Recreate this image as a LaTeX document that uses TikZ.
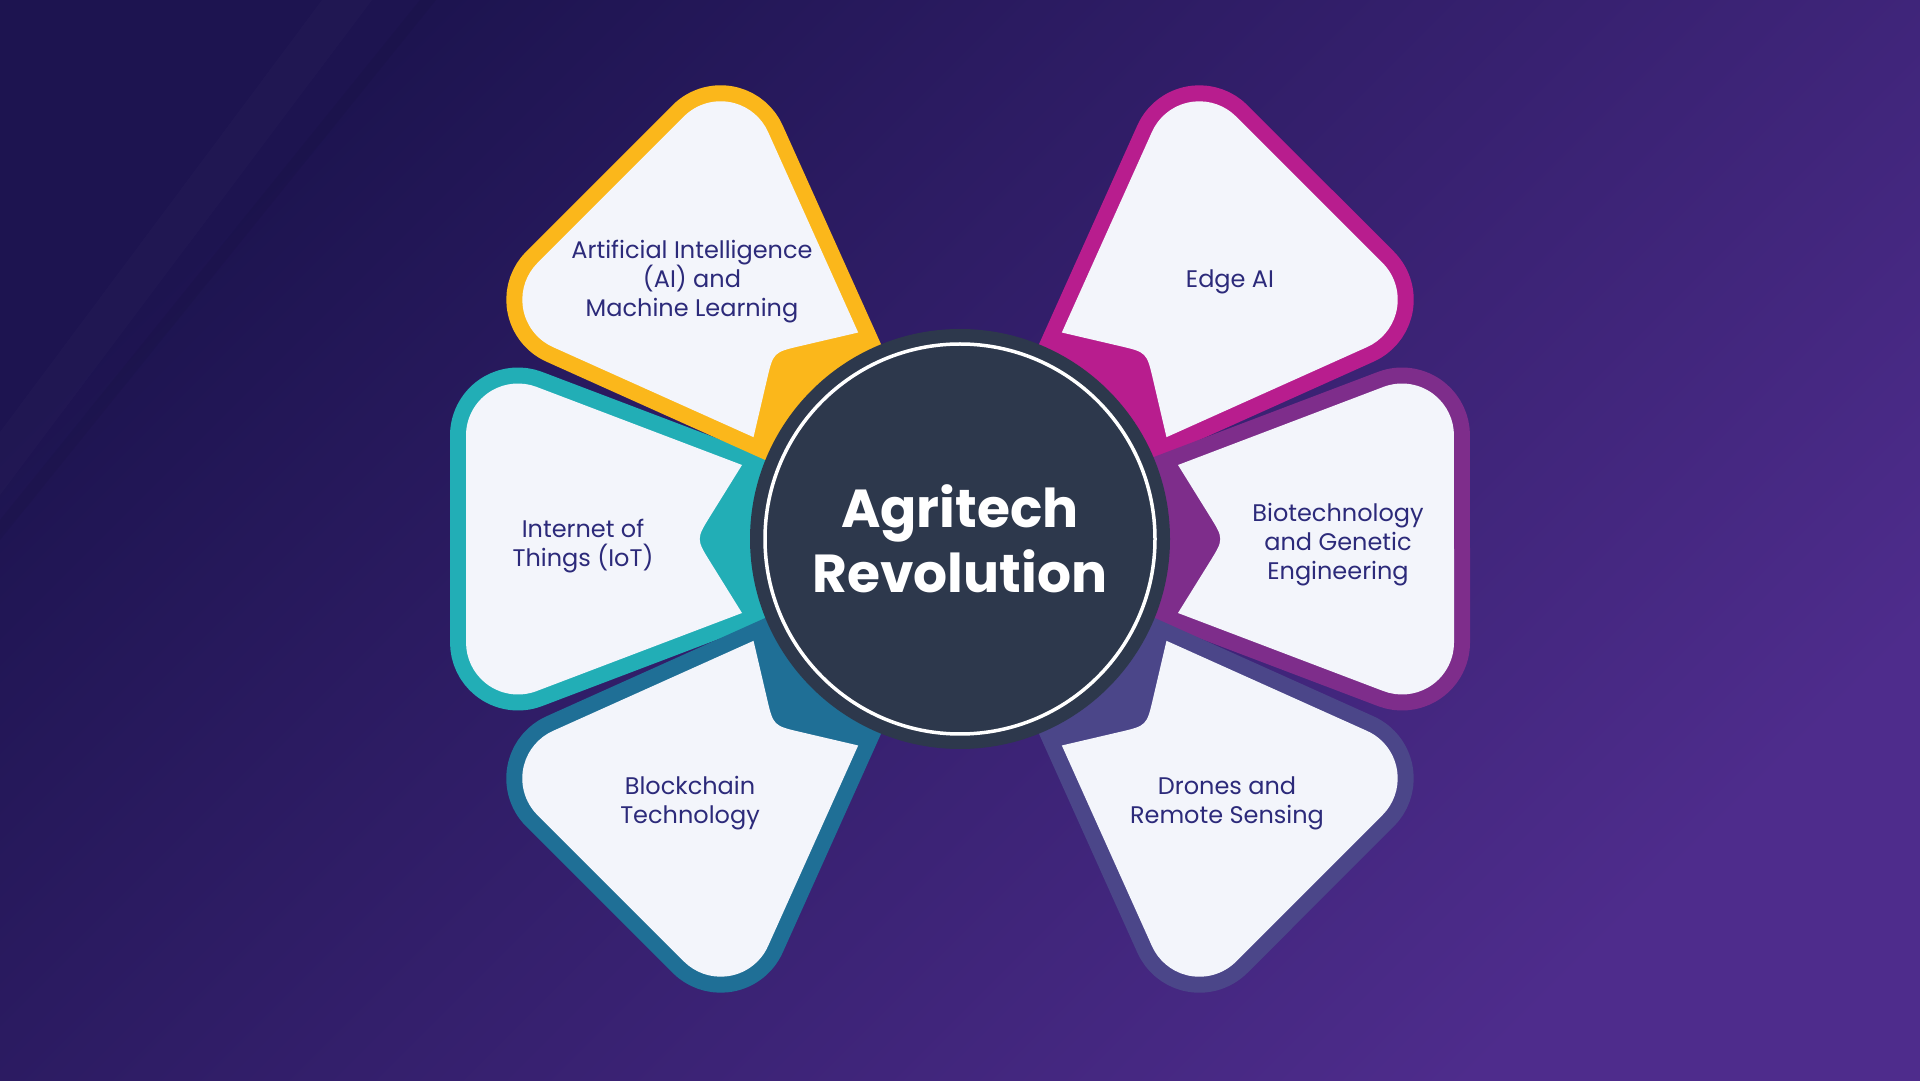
\documentclass[tikz,border=0pt]{standalone}
\usepackage{fontspec}
\setmainfont{Poppins}
\definecolor{bgA}{HTML}{1D1450}
\definecolor{bgM}{HTML}{2C1A5D}
\definecolor{bgB}{HTML}{4E2C8C}
\definecolor{cYel}{HTML}{FBB71B}
\definecolor{cTeal}{HTML}{22AEB6}
\definecolor{cBlue}{HTML}{1F6F96}
\definecolor{cMag}{HTML}{B81D8E}
\definecolor{cPur}{HTML}{7E2D8B}
\definecolor{cSlate}{HTML}{4B4689}
\definecolor{hub}{HTML}{2D384C}
\definecolor{paper}{HTML}{F3F5FB}
\definecolor{ink}{HTML}{2C2A7A}
\tikzset{
  lbl/.style={text=ink, align=center, font=\fontsize{24}{29}\selectfont, inner sep=0pt},
  titletext/.style={text=white, align=center, font=\bfseries\fontsize{53.5}{65}\selectfont, inner sep=0pt},
}
\newcommand\drawpetal[2]{%
  \begin{scope}[shift={(960,541)}, rotate=#1]
    \filldraw[#2, line width=32pt, line join=round]
      (23,0) -- (423.5,152.1) arc[start angle=110.8, end angle=0, radius=52]
      -- (494,-103.5) arc[start angle=0, end angle=-110.8, radius=52] -- cycle;
    \fill[paper]
      (218,74) -- (423.5,152.1) arc[start angle=110.8, end angle=0, radius=52]
      -- (494,-103.5) arc[start angle=0, end angle=-110.8, radius=52]
      -- (218,-74) -- (249.2,-23.8) .. controls (264,0) .. (249.2,23.8) -- cycle;
  \end{scope}}
\begin{document}
\begin{tikzpicture}[x=1pt, y=1pt]
  \useasboundingbox (0,0) rectangle (1920,1080);
  % background
  \shade[top color=bgA, middle color=bgM, bottom color=bgB, shading angle=45] (0,0) rectangle (1920,1080);
  \fill[white, opacity=0.015] (0,648) -- (322,1080) -- (372,1080) -- (0,585) -- cycle;
  \fill[black, opacity=0.04] (0,560) -- (420,1080) -- (436,1080) -- (0,540) -- cycle;
  % petals
  \drawpetal{180}{cTeal}
  \drawpetal{225}{cBlue}
  \drawpetal{135}{cYel}
  \drawpetal{45}{cMag}
  \drawpetal{0}{cPur}
  \drawpetal{-45}{cSlate}
  % hub
  \coordinate (hubc) at (960,541);
  \fill[hub] (hubc) circle (210);
  \draw[white, line width=3.5pt] (hubc) circle (195);
  \node[titletext] (title) at (hubc) {Agritech\\Revolution};
  % labels
  \node[lbl] (ai) at (692,798) {Artificial Intelligence\\(AI) and\\Machine Learning};
  \node[lbl] (iot) at (583,534) {Internet of\\Things (IoT)};
  \node[lbl] (bc) at (690,277) {Blockchain\\Technology};
  \node[lbl] (edge) at (1230,798) {Edge AI};
  \node[lbl] (bio) at (1338,535) {Biotechnology\\and Genetic\\Engineering};
  \node[lbl] (drone) at (1227,277) {Drones and\\Remote Sensing};
\end{tikzpicture}
\end{document}
